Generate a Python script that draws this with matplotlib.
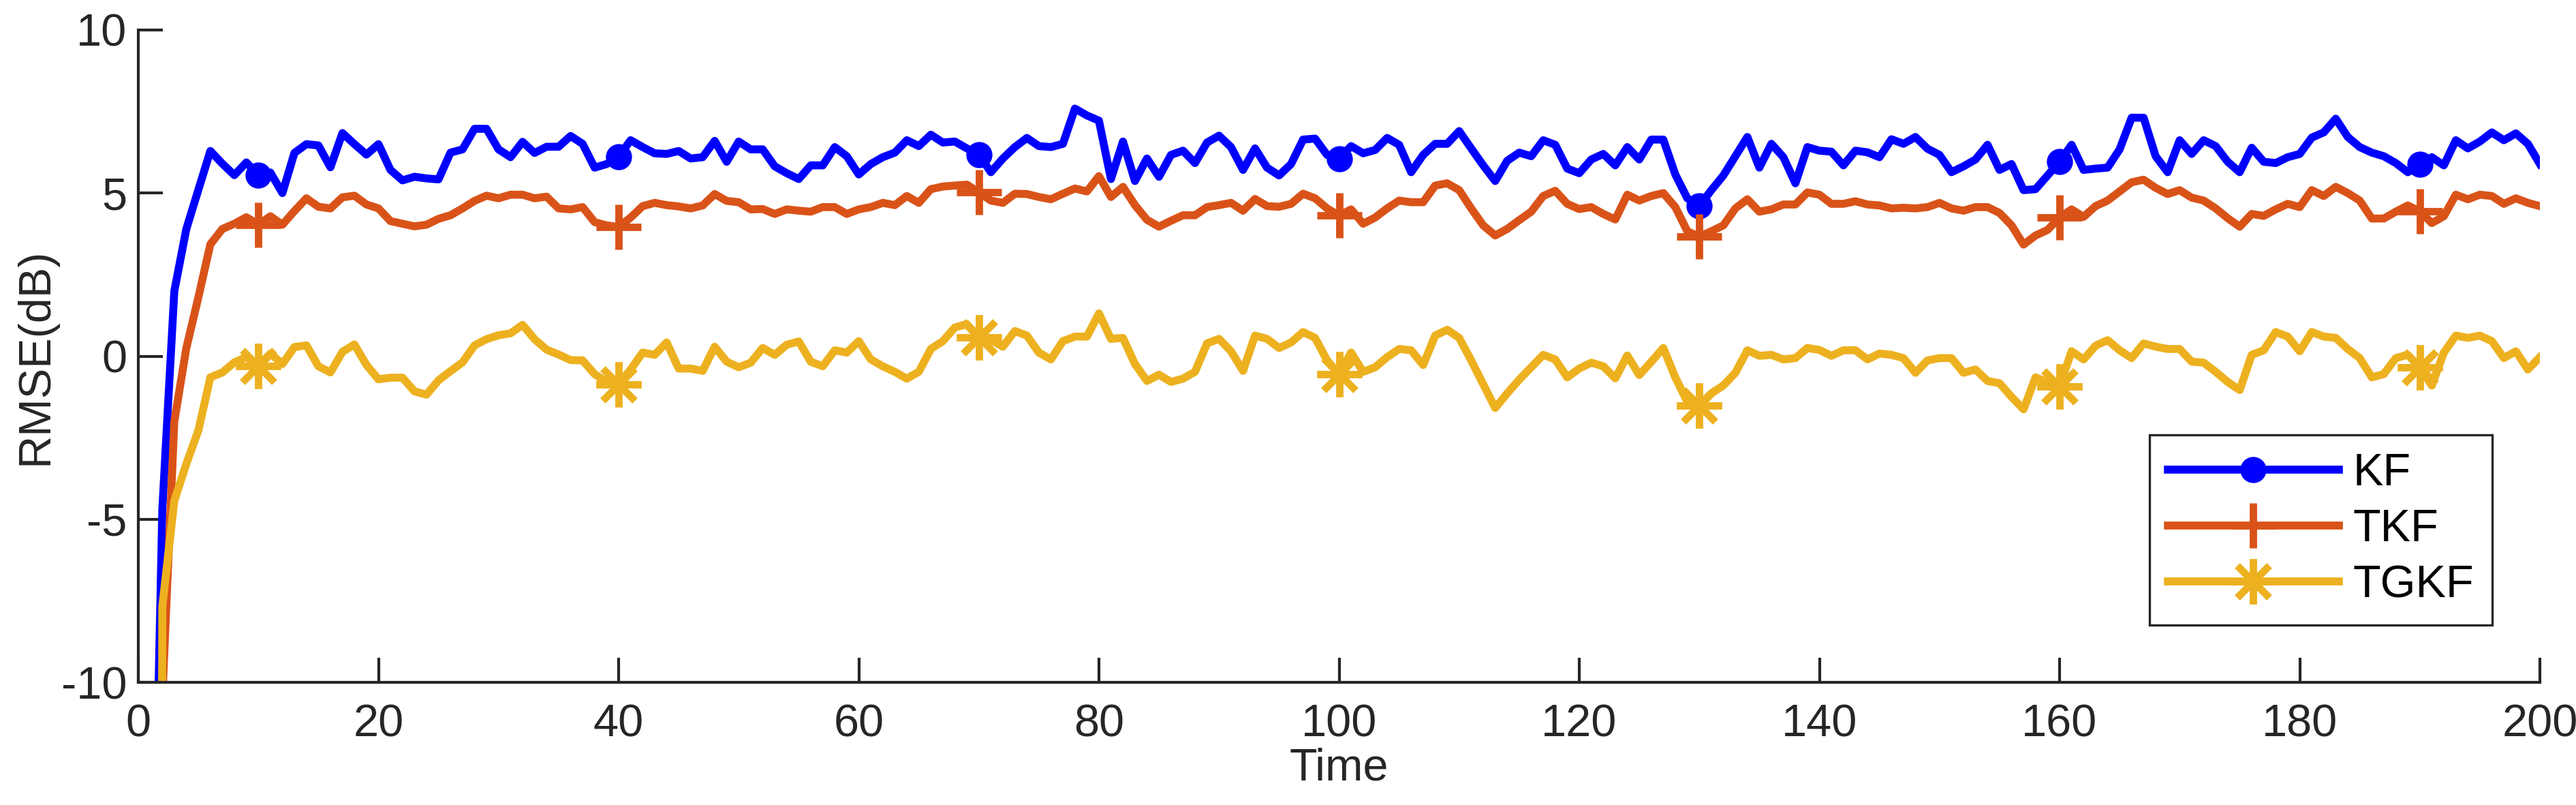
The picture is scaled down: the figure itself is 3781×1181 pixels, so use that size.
import numpy as np
import matplotlib.pyplot as plt
from matplotlib.path import Path

plt.rcParams['font.family'] = ['Liberation Sans', 'DejaVu Sans']
plt.rcParams['axes.unicode_minus'] = False

time = np.arange(1, 201)

kf = [-22, -4.7, 2.0, 3.9, 5.1, 6.29, 5.9, 5.55, 5.94, 5.55,
      5.63, 5.0, 6.23, 6.5, 6.46, 5.79, 6.84, 6.5, 6.18, 6.5,
      5.71, 5.39, 5.5, 5.45, 5.42, 6.24, 6.34, 6.97, 6.97, 6.34,
      6.1, 6.57, 6.23, 6.42, 6.42, 6.75, 6.51, 5.78, 5.89, 6.12,
      6.62, 6.41, 6.22, 6.2, 6.29, 6.06, 6.1, 6.6, 5.96, 6.58,
      6.34, 6.34, 5.82, 5.61, 5.43, 5.85, 5.85, 6.41, 6.13, 5.57,
      5.89, 6.1, 6.24, 6.62, 6.44, 6.79, 6.55, 6.58, 6.37, 6.18,
      5.64, 6.06, 6.41, 6.69, 6.44, 6.41, 6.51, 7.59, 7.38, 7.22,
      5.43, 6.58, 5.37, 6.06, 5.5, 6.17, 6.3, 5.92, 6.55, 6.76,
      6.41, 5.71, 6.37, 5.78, 5.54, 5.89, 6.64, 6.67, 6.17, 6.06,
      6.44, 6.22, 6.32, 6.69, 6.48, 5.64, 6.17, 6.51, 6.51, 6.9,
      6.37, 5.85, 5.37, 5.99, 6.24, 6.13, 6.62, 6.48, 5.75, 5.61,
      6.03, 6.2, 5.85, 6.41, 6.03, 6.64, 6.64, 5.57, 4.84, 4.6,
      5.09, 5.54, 6.13, 6.72, 5.78, 6.51, 6.1, 5.3, 6.41, 6.3,
      6.27, 5.85, 6.3, 6.25, 6.1, 6.65, 6.51, 6.72, 6.36, 6.17,
      5.64, 5.82, 6.03, 6.48, 5.71, 5.89, 5.09, 5.12, 5.54, 5.96,
      6.48, 5.71, 5.75, 5.78, 6.34, 7.31, 7.31, 6.13, 5.64, 6.62,
      6.2, 6.62, 6.44, 5.96, 5.64, 6.39, 5.96, 5.92, 6.1, 6.2,
      6.7, 6.86, 7.28, 6.72, 6.41, 6.24, 6.13, 5.92, 5.64, 5.89,
      6.1, 5.85, 6.62, 6.37, 6.58, 6.86, 6.62, 6.83, 6.51, 5.89]

tkf = [-40, -10.5, -2.0, 0.25, 1.8, 3.43, 3.9, 4.06, 4.26, 4.03,
       4.29, 4.03, 4.45, 4.84, 4.58, 4.53, 4.87, 4.92, 4.65, 4.53,
       4.14, 4.06, 3.98, 4.03, 4.21, 4.32, 4.53, 4.76, 4.92, 4.84,
       4.95, 4.95, 4.84, 4.89, 4.53, 4.5, 4.57, 4.11, 4.01, 3.96,
       4.25, 4.6, 4.7, 4.63, 4.59, 4.53, 4.62, 4.97, 4.76, 4.72,
       4.5, 4.51, 4.36, 4.5, 4.46, 4.43, 4.57, 4.57, 4.36, 4.5,
       4.57, 4.7, 4.63, 4.91, 4.7, 5.12, 5.2, 5.23, 5.26, 5.02,
       4.77, 4.7, 4.98, 4.97, 4.88, 4.81, 4.98, 5.14, 5.05, 5.52,
       4.88, 5.19, 4.63, 4.18, 3.97, 4.15, 4.32, 4.32, 4.57, 4.63,
       4.7, 4.46, 4.82, 4.6, 4.58, 4.67, 4.98, 4.84, 4.53, 4.31,
       4.5, 4.06, 4.25, 4.53, 4.77, 4.72, 4.72, 5.23, 5.3, 5.09,
       4.53, 4.01, 3.7, 3.9, 4.17, 4.43, 4.91, 5.07, 4.67, 4.51,
       4.57, 4.36, 4.19, 4.95, 4.77, 4.91, 5.0, 4.57, 3.83, 3.66,
       3.83, 4.01, 4.53, 4.81, 4.43, 4.5, 4.65, 4.65, 5.02, 4.95,
       4.67, 4.67, 4.75, 4.65, 4.62, 4.53, 4.55, 4.53, 4.57, 4.7,
       4.53, 4.46, 4.57, 4.57, 4.39, 4.01, 3.42, 3.7, 3.87, 4.25,
       4.5, 4.27, 4.6, 4.77, 5.05, 5.33, 5.41, 5.16, 4.97, 5.09,
       4.86, 4.77, 4.53, 4.23, 3.97, 4.36, 4.3, 4.5, 4.67, 4.57,
       5.09, 4.91, 5.19, 5.0, 4.77, 4.22, 4.22, 4.43, 4.62, 4.44,
       4.08, 4.29, 4.95, 4.81, 4.95, 4.91, 4.67, 4.84, 4.7, 4.6]

tgkf = [-150, -7.68, -4.43, -3.3, -2.28, -0.65, -0.5, -0.19, -0.03, -0.3,
        0.08, -0.24, 0.28, 0.33, -0.31, -0.5, 0.13, 0.36, -0.27, -0.71,
        -0.66, -0.66, -1.08, -1.18, -0.74, -0.46, -0.19, 0.33, 0.52, 0.64,
        0.7, 0.96, 0.52, 0.2, 0.05, -0.12, -0.13, -0.55, -0.79, -0.86,
        -0.41, 0.11, 0.04, 0.42, -0.38, -0.38, -0.45, 0.29, -0.17, -0.34,
        -0.2, 0.25, 0.04, 0.35, 0.45, -0.17, -0.31, 0.18, 0.11, 0.46,
        -0.1, -0.31, -0.48, -0.69, -0.48, 0.22, 0.46, 0.88, 0.98, 0.58,
        0.5, 0.29, 0.77, 0.63, 0.11, -0.1, 0.46, 0.6, 0.6, 1.31,
        0.53, 0.56, -0.24, -0.76, -0.57, -0.79, -0.69, -0.48, 0.39, 0.53,
        0.15, -0.45, 0.63, 0.53, 0.25, 0.42, 0.74, 0.56, -0.13, -0.55,
        0.11, -0.48, -0.34, -0.03, 0.22, 0.18, -0.27, 0.63, 0.81, 0.56,
        -0.13, -0.86, -1.59, -1.14, -0.72, -0.34, 0.04, -0.1, -0.65, -0.38,
        -0.2, -0.31, -0.68, 0.02, -0.58, -0.17, 0.25, -0.65, -1.4, -1.51,
        -1.14, -0.9, -0.51, 0.18, 0.01, 0.04, -0.1, -0.06, 0.25, 0.19,
        0.01, 0.18, 0.18, -0.1, 0.08, 0.04, -0.06, -0.51, -0.13, -0.06,
        -0.06, -0.51, -0.41, -0.76, -0.83, -1.25, -1.63, -0.65, -0.8, -0.93,
        0.15, -0.1, 0.32, 0.49, 0.18, -0.06, 0.39, 0.29, 0.22, 0.22,
        -0.17, -0.2, -0.48, -0.79, -1.04, 0.04, 0.18, 0.74, 0.6, 0.15,
        0.74, 0.6, 0.56, 0.22, -0.06, -0.65, -0.55, -0.06, 0.04, -0.34,
        -0.9, 0.11, 0.63, 0.56, 0.63, 0.46, -0.06, 0.15, -0.41, -0.03]

labels = ['KF', 'TKF', 'TGKF']
x_ticks = np.arange(0, 201, 20)
y_ticks = np.arange(-10, 11, 5)

# MATLAB-style asterisk: plus sign with shorter diagonals
d = 0.707
asterisk = Path([(0, -1), (0, 1), (-1, 0), (1, 0),
                 (-d, -d), (d, d), (-d, d), (d, -d)],
                [Path.MOVETO, Path.LINETO] * 4)

axis_color = '#262626'
fig = plt.figure(figsize=(3781 / 300, 1181 / 300), dpi=300)
ax = fig.add_axes([203 / 3781, 1 - 1001 / 1181, 3525 / 3781, 957 / 1181])

lw = 2.8
ax.plot(time, kf, color=(0, 0, 1), lw=lw, marker='o', markersize=8,
        markerfacecolor=(0, 0, 1), markeredgewidth=1.2, markevery=(9, 30),
        label=labels[0])
ax.plot(time, tkf, color='#D95319', lw=lw, marker='+', markersize=16,
        markeredgewidth=2.6, markevery=(9, 30), label=labels[1])
ax.plot(time, tgkf, color='#EDB120', lw=lw, marker=asterisk, markersize=16,
        markeredgewidth=2.6, markerfacecolor='none', markevery=(9, 30),
        label=labels[2])

ax.set_xlim(0, 200)
ax.set_ylim(-10, 10)
ax.set_xticks(x_ticks)
ax.set_yticks(y_ticks)
ax.tick_params(direction='in', length=8.6, width=1.0, labelsize=16,
               colors=axis_color)
ax.tick_params(axis='x', pad=7.5)
ax.tick_params(axis='y', pad=4)
for side in ['top', 'right']:
    ax.spines[side].set_visible(False)
for side in ['left', 'bottom']:
    ax.spines[side].set_color(axis_color)
    ax.spines[side].set_linewidth(1.0)

ax.set_xlabel('Time', fontsize=16, color=axis_color)
ax.set_ylabel('RMSE(dB)', fontsize=16, color=axis_color)
ax.xaxis.set_label_coords(0.5, -0.100)
ax.yaxis.set_label_coords(-0.034, 0.5)

leg = ax.legend(loc='lower right', bbox_to_anchor=(0.980, 0.0878),
                borderaxespad=0, fontsize=16, handlelength=3.76,
                handletextpad=0.31, borderpad=0.4, labelspacing=0.3,
                fancybox=False, framealpha=1, numpoints=1)
leg.get_frame().set_edgecolor(axis_color)
leg.get_frame().set_linewidth(0.8)

fig.savefig('out.png', dpi=300)
